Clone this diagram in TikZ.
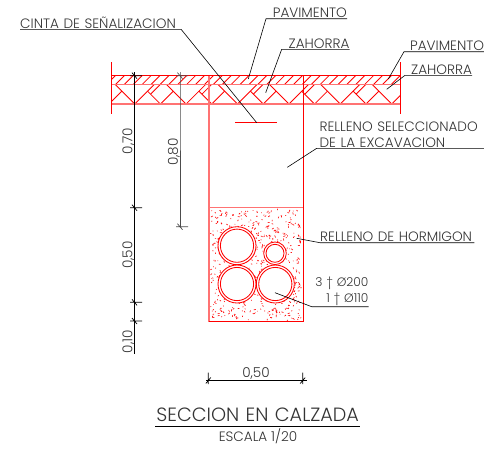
\documentclass[tikz,border=0pt]{standalone}
\usepackage{fontspec}
\setmainfont{Poppins}[UprightFont=* Light]
\definecolor{txtcol}{gray}{0.2}
\tikzset{
    thinred/.style = {draw=red, line width=0.85pt},
    thickred/.style = {draw=red!55, line width=1.5pt},
    leader/.style = {draw=black, line width=0.6pt},
    dimline/.style = {draw=black, line width=0.7pt},
    lbl/.style = {anchor=south west, inner xsep=0pt, inner ysep=1pt, text depth=0pt, text=txtcol, font=\fontsize{13.6}{15.5}\selectfont},
    dimtxt/.style = {text=txtcol, inner sep=0pt, font=\fontsize{13.6}{15}\selectfont}
}
\begin{document}
\begin{tikzpicture}[x=1pt, y=-1pt]
    \useasboundingbox (0,0) rectangle (484,448);

    % hatching of the two layers
    \begin{scope}
        \clip (111.7,75.7) rectangle (400.7,84.3);
        \foreach \i in {0,...,35}
            \draw[thinred] (105+\i*8.9,86) -- +(12,-12);
    \end{scope}
    \begin{scope}
        \clip (111.7,84.3) rectangle (400.7,104);
        \foreach \i in {-1,...,5}{
            \pgfmathsetmacro{\bx}{134.7+\i*51.4}
            \pgfmathsetmacro{\by}{\bx+25.7}
            \draw[thinred] (\bx,104) -- +(19.7,-19.7);
            \draw[thinred] (\bx,104) -- +(-19.7,-19.7);
            \draw[thinred] (\by,104) -- +(12.85,-12.85);
            \draw[thinred] (\by,104) -- +(-12.85,-12.85);
            \draw[thinred] (\by,84.3) -- +(-9.7,9.7);
        }
    \end{scope}
    \draw[thinred] (111.7,75.7) -- (400.7,75.7);
    \draw[thickred] (111.7,84.3) -- (400.7,84.3);
    \draw[thickred] (111.7,104) -- (400.7,104);
    \draw[thinred] (111.7,62) -- (111.7,114);
    \draw[thinred] (400.7,62) -- (400.7,114);

    % trench
    \draw[thickred] (209,75.7) -- (209,321.7);
    \draw[thinred] (303.3,75.7) -- (303.3,321.7) -- (209,321.7);
    \draw[thickred] (209,207.7) -- (303.3,207.7);
    \draw[red, line width=1.5pt] (235,122.7) -- (277,122.7);

    % concrete
    \pgfmathsetseed{11}
    \foreach \i in {1,...,650}{
        \pgfmathsetmacro{\px}{211+rnd*90}
        \pgfmathsetmacro{\py}{210+rnd*110}
        \pgfmathsetmacro{\pa}{rnd*360}
        \pgfmathsetmacro{\pl}{0.6+rnd*1.6}
        \draw[red, line width=0.6pt] (\px,\py) -- +(\pa:\pl);
    }
    \foreach \cx/\cy/\ro/\ri in {237/245.7/19/16.6, 237/284/19/16.6, 275.3/284/19/16.6, 275/253.3/11.3/9}{
        \fill[white] (\cx,\cy) circle[radius=\ro];
        \draw[thinred] (\cx,\cy) circle[radius=\ro];
        \draw[thinred] (\cx,\cy) circle[radius=\ri];
    }

    % labels and leaders
    \node[lbl, text width=160.7, align=left] (cinta) at (20,29.3) {CINTA DE SEÑALIZACION};
    \node[lbl, text width=80.7, align=right] (pavA) at (266,18.7) {PAVIMENTO};
    \node[lbl, text width=67.6, align=right] (zahA) at (281.7,49.3) {ZAHORRA};
    \node[lbl, text width=80, align=right] (pavB) at (404,51.7) {PAVIMENTO};
    \node[lbl, text width=66.7, align=right] (zahB) at (405,75.3) {ZAHORRA};
    \node[lbl, text depth=, text width=161.3, align=left, inner xsep=2.7pt] (relA) at (316.7,148.3) {RELLENO SELECCIONADO\\DE LA EXCAVACION};
    \node[lbl, text width=154, align=left] (relB) at (320,242.7) {RELLENO DE HORMIGON};
    \node[lbl, text depth=, text width=56.6, align=right, font=\fontsize{12.2}{15.5}\selectfont] (tubos) at (311.7,306.7) {3 † Ø200\\1 † Ø110};
    \coordinate (cintaEnd) at (256.7,122.7);
    \coordinate (pavAEnd) at (248.3,79);
    \coordinate (zahAEnd) at (265.7,92.7);
    \coordinate (pavBEnd) at (388.3,79);
    \coordinate (zahBEnd) at (386.7,89.3);
    \coordinate (relAEnd) at (287.3,167.3);
    \coordinate (relBEnd) at (296.7,238.3);
    \coordinate (tubosEnd) at (275,292.7);
    \draw[leader] (cinta.south west) -- (cinta.south east) -- (cintaEnd);
    \foreach \n in {pavA,zahA,pavB,zahB,relA,relB,tubos}
        \draw[leader] (\n.south east) -- (\n.south west) -- (\n End);

    % dimensions
    \coordinate (dimA) at (134.7,75.7);
    \coordinate (dimB) at (134.7,207.7);
    \coordinate (dimC) at (134.7,302.3);
    \coordinate (dimD) at (134.7,321);
    \coordinate (dimE) at (134.7,354);
    \draw[dimline] (134.7,72) -- (dimA) -- (dimB) -- (dimC) -- (dimD) -- (dimE);
    \foreach \y in {75.7,207.7,302.3,321}
        \draw[dimline] (130,\y) -- (142,\y) (132,\y-3) -- (137,\y+3);
    \coordinate (dimF) at (180,75.7);
    \coordinate (dimG) at (180,226.7);
    \draw[dimline, draw=black!70] (180,72) -- (dimF) -- (dimG);
    \draw[dimline, draw=black!70] (176,75.7) -- (188,75.7) (177.5,72.7) -- (182.5,78.7);
    \draw[dimline, draw=black!70] (176,226.7) -- (188,226.7) (177.5,223.7) -- (182.5,229.7);
    \coordinate (dimH) at (206,380.7);
    \coordinate (dimI) at (306.7,380.7);
    \draw[dimline] (dimH) -- (dimI);
    \foreach \x in {208.3,302.7}
        \draw[dimline] (\x,372.7) -- (\x,384) (\x-2.5,383.5) -- (\x+2.5,377.5);

    \node[dimtxt, rotate=90] (lblA) at (128.3,141) {0,70};
    \node[dimtxt, rotate=90] (lblB) at (174,152) {0,80};
    \node[dimtxt, rotate=90] (lblC) at (128.3,255) {0,50};
    \node[dimtxt, rotate=90] (lblD) at (128.3,341.7) {0,10};
    \node[dimtxt] (lblE) at (256,374) {0,50};

    % title
    \node[lbl, text width=205, align=center, inner ysep=5pt, font=\fontsize{19.2}{20}\selectfont] (titulo) at (155,426.7) {SECCION EN CALZADA};
    \draw[leader] (titulo.south west) -- (titulo.south east);
    \node[dimtxt] (escala) at (258,436.7) {ESCALA 1/20};
\end{tikzpicture}
\end{document}
